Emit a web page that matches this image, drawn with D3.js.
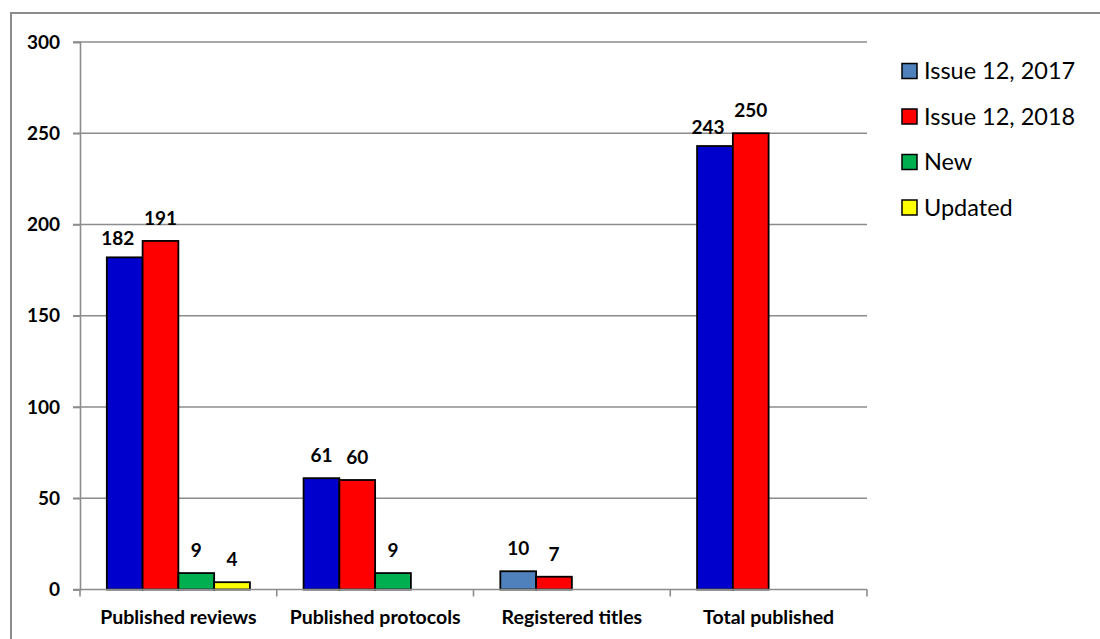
<!DOCTYPE html>
<html><head><meta charset="utf-8">
<script src="https://cdn.jsdelivr.net/npm/d3@7"></script>
<style>body{margin:0;background:#fff}svg{display:block}</style>
</head><body>
<svg id="c" width="1100" height="639"></svg>
<script>
const categories = ["Published reviews","Published protocols","Registered titles","Total published"];
const seriesNames = ["Issue 12, 2017","Issue 12, 2018","New","Updated"];
const issue2017 = [182, 61, 10, 243];
const issue2018 = [191, 60, 7, 250];
const newVals = [9, 9, null, null];
const updatedVals = [4, null, null, null];
const yTicks = [0, 50, 100, 150, 200, 250, 300];
const seriesColors = ["#4F81BD", "#FF0000", "#00B050", "#FFFF00"];
const issue2017BarColors = ["#0000CC", "#0000CC", "#4F81BD", "#0000CC"];

const allSeries = [issue2017, issue2018, newVals, updatedVals];
const svg = d3.select("#c");
const FONT = "Lato, 'Open Sans', sans-serif";
const gray = "#8c8c8c";

// outer frame (top & left visible)
svg.append("path").attr("d","M11,1000 L11,13 L1110,13").attr("fill","none").attr("stroke",gray).attr("stroke-width",2);

const x0 = d3.scaleBand().domain(categories).range([80, 867]).paddingInner(0).paddingOuter(0);
const gapFrac = 1.5/5.5;
const inner = x0.bandwidth()*(1-gapFrac);
const off = x0.bandwidth()*gapFrac/2;
const bw = inner/4;
const y = d3.scaleLinear().domain([0,300]).range([589.5, 42]);

// gridlines
svg.append("g").selectAll("line").data(yTicks.filter(t=>t>0)).join("line")
  .attr("x1",73).attr("x2",867).attr("y1",d=>y(d)).attr("y2",d=>y(d))
  .attr("stroke",gray).attr("stroke-width",1.6);

// y axis
const yAxis = d3.axisLeft(y).tickValues(yTicks).tickSize(7).tickPadding(13).tickFormat(d3.format("d"));
const gy = svg.append("g").attr("transform","translate(80,0)").call(yAxis);
gy.select(".domain").attr("stroke",gray).attr("stroke-width",1.6);
gy.selectAll(".tick line").attr("stroke",gray).attr("stroke-width",1.6);
gy.selectAll(".tick text").attr("font-family",FONT).attr("font-weight","bold").attr("font-size",19).attr("fill","#000");

// bars
const g = svg.append("g");
categories.forEach((c,ci)=>{
  allSeries.forEach((s,si)=>{
    const v = s[ci];
    if (v==null) return;
    const bx = x0(c) + off + si*bw;
    const fill = si===0 ? issue2017BarColors[ci] : seriesColors[si];
    g.append("rect").attr("x",bx).attr("y",y(v)).attr("width",bw).attr("height",y(0)-y(v))
      .attr("fill",fill).attr("stroke","#000").attr("stroke-width",1.8);
    let dx = 0, dy = 0;
    if (si===0 && allSeries[1][ci]!=null && allSeries[1][ci] > v) { dx = -7; dy = 4; }
    g.append("text").attr("x",bx+bw/2+dx).attr("y",y(v)-16+dy)
      .attr("text-anchor","middle").attr("font-family",FONT).attr("font-weight","bold")
      .attr("font-size",19).attr("fill","#000").text(d3.format("d")(v));
  });
});

// x axis
const gx = svg.append("g").attr("transform",`translate(0,${y(0)})`);
gx.append("line").attr("x1",73).attr("x2",867).attr("stroke",gray).attr("stroke-width",1.6);
const bounds = [80, ...categories.map(c=>x0(c)+x0.bandwidth())];
gx.selectAll(".tk").data(bounds).join("line").attr("class","tk")
  .attr("x1",d=>d).attr("x2",d=>d).attr("y1",0).attr("y2",7).attr("stroke",gray).attr("stroke-width",1.6);
gx.selectAll(".cl").data(categories).join("text").attr("class","cl")
  .attr("x",d=>x0(d)+x0.bandwidth()/2).attr("y",34).attr("text-anchor","middle")
  .attr("font-family",FONT).attr("font-weight","bold").attr("font-size",19.5).attr("fill","#000").text(d=>d);

// legend
const lg = svg.append("g");
seriesNames.forEach((n,i)=>{
  const cy = 71 + i*45.5;
  lg.append("rect").attr("x",902).attr("y",cy-7.5).attr("width",15).attr("height",15)
    .attr("fill",seriesColors[i]).attr("stroke","#000").attr("stroke-width",1.5);
  lg.append("text").attr("x",924).attr("y",cy).attr("dy","0.36em")
    .attr("font-family",FONT).attr("font-size",23.5).attr("fill","#000").text(n);
});
</script>
</body></html>
